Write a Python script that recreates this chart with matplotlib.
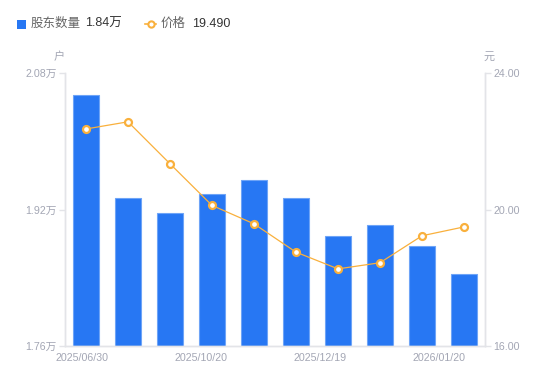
import numpy as np
import matplotlib.pyplot as plt

plt.rcParams['font.family'] = ['Liberation Sans', 'Noto Sans CJK SC', 'DejaVu Sans']

# data
dates = ['2025/06/30', '2025/08/20', '2025/09/30', '2025/10/20', '2025/10/31',
         '2025/11/28', '2025/12/19', '2025/12/31', '2026/01/09', '2026/01/20']
holders = [2.054, 1.933, 1.9155, 1.938, 1.9546, 1.933, 1.8886, 1.9015, 1.8776, 1.844]  # 万户
price = [22.36, 22.57, 21.34, 20.12, 19.58, 18.75, 18.26, 18.44, 19.23, 19.49]
tick_pos = [-0.1, 2.73, 5.57, 8.4]
tick_labels = ['2025/06/30', '2025/10/20', '2025/12/19', '2026/01/20']
left_ticks = [1.76, 1.92, 2.08]
right_ticks = [16, 20, 24]

blue = '#2777F3'
orange = '#F9B03C'
grey = '#A3A6B4'
axis_col = '#E3E4E8'

fig = plt.figure(figsize=(5.5, 3.81), dpi=100)
ax = fig.add_axes([65/550, 1-346/381, 420/550, 273/381])
x = np.arange(len(holders))
ax.bar(x, holders, width=0.61, color=blue, edgecolor='#6EA4F7', linewidth=0.8, zorder=2)
ax.set_xlim(-0.5, len(holders) - 0.5)
ax.set_ylim(1.76, 2.08)
ax.set_yticks(left_ticks)
ax.set_yticklabels([f'{v:.2f}万' for v in left_ticks])
ax.set_xticks(tick_pos)
ax.set_xticklabels(tick_labels)

ax2 = ax.twinx()
ax2.plot(x, price, color=orange, linewidth=0.9, marker='o', markersize=5,
         markerfacecolor='white', markeredgecolor=orange, markeredgewidth=1.6, zorder=3)
ax2.set_ylim(16, 24)
ax2.set_yticks(right_ticks)
ax2.set_yticklabels([f'{v:.2f}' for v in right_ticks])

for a in (ax, ax2):
    a.spines['top'].set_visible(False)
    for s in ('left', 'right', 'bottom'):
        a.spines[s].set_color(axis_col)
        a.spines[s].set_linewidth(1)
    a.tick_params(axis='y', colors=axis_col, labelcolor=grey, labelsize=7.7, length=4, width=1, pad=2)
ax.tick_params(axis='x', length=0, labelcolor=grey, labelsize=7.7, pad=5)

ax.text(-0.015, 1.06, '户', transform=ax.transAxes, ha='center', va='center', fontsize=8, color=grey)
ax2.text(1.01, 1.06, '元', transform=ax2.transAxes, ha='center', va='center', fontsize=8, color=grey)

# legend
fig.patches.append(plt.Rectangle((17/550, 1-29/381), 9/550, 9/381, transform=fig.transFigure,
                                 facecolor=blue, edgecolor='none'))
fig.text(31/550, 1-24/381, '股东数量', fontsize=9, color='#666666', va='center')
fig.text(85/550, 1-24/381, '1.84万', fontsize=9, color='#333333', va='center')
ly = 1 - 24/381
fig.lines.append(plt.Line2D([145/550, 150.5/550, 156/550], [ly, ly, ly], transform=fig.transFigure,
                            color=orange, linewidth=1.2, marker='o', markersize=4.5,
                            markevery=[1], markerfacecolor='white', markeredgecolor=orange,
                            markeredgewidth=1.5))
fig.text(161/550, ly, '价格', fontsize=9, color='#666666', va='center')
fig.text(192/550, ly, '19.490', fontsize=9, color='#333333', va='center')

fig.savefig('out.png', dpi=100)
